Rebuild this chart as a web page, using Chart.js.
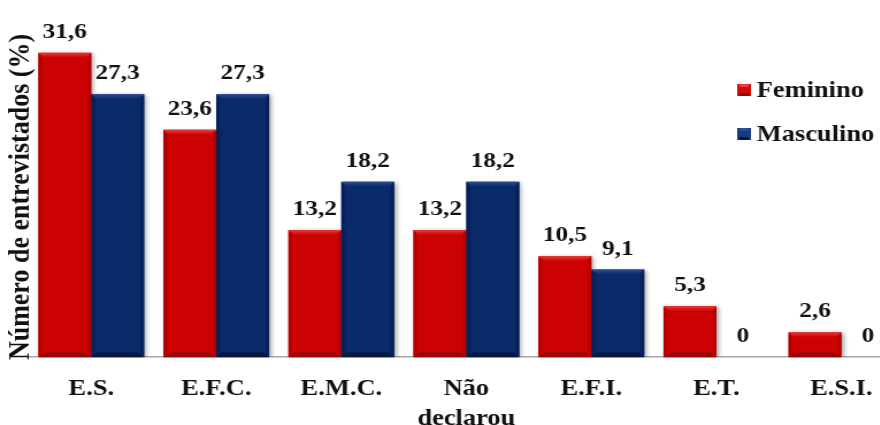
<!DOCTYPE html>
<html lang="pt">
<head>
<meta charset="utf-8">
<title>Número de entrevistados (%) por escolaridade e sexo</title>
<script src="https://cdn.jsdelivr.net/npm/chart.js@4.4.1/dist/chart.umd.min.js"></script>
<style>
  html, body { margin: 0; padding: 0; background: #ffffff; overflow: hidden; width: 880px; height: 425px; }
  /* the drawing is widened slightly on the horizontal axis */
  #wrap { width: 787px; height: 451px; transform: scaleX(1.15); transform-origin: 0 0; }
  canvas { display: block; }
</style>
</head>
<body>
<div id="wrap"><canvas id="chart" width="787" height="451"></canvas></div>
<script>
// Escolaridade dos entrevistados
const categories = ['E.S.', 'E.F.C.', 'E.M.C.', ['Não', 'declarou'], 'E.F.I.', 'E.T.', 'E.S.I.'];
const feminino   = [31.6, 23.6, 13.2, 13.2, 10.5, 5.3, 2.6];
const masculino  = [27.3, 27.3, 18.2, 18.2, 9.1, 0, 0];
const seriesNames = ['Feminino', 'Masculino'];
const yTitle = 'Número de entrevistados (%)';

const SERIF = '"Liberation Serif"';
const palettes = [
  { main: '#cc0202', top: '#e83c3c', side: '#b30000', bottom: '#9c0404', swatch: '#d10a0a' },
  { main: '#0b2a6a', top: '#2d4d92', side: '#072059', bottom: '#041846', swatch: '#173b82' }
];

function fmt(v) { return v === 0 ? '0' : v.toFixed(1).replace('.', ','); }

function poly(ctx, pts, color) {
  ctx.beginPath();
  ctx.moveTo(pts[0][0], pts[0][1]);
  for (let i = 1; i < pts.length; i++) ctx.lineTo(pts[i][0], pts[i][1]);
  ctx.closePath();
  ctx.fillStyle = color;
  ctx.fill();
}

// bevelled faces on every bar, then the value labels
const bevelPlugin = {
  id: 'bevel',
  beforeDatasetsDraw(chart) {
    const ctx = chart.ctx;
    ctx.save();
    ctx.shadowColor = 'rgba(0,0,0,0.35)';
    ctx.shadowBlur = 4;
    ctx.shadowOffsetX = 2;
    ctx.shadowOffsetY = 1;
  },
  afterDatasetsDraw(chart) {
    const ctx = chart.ctx;
    ctx.restore();
    chart.data.datasets.forEach((ds, di) => {
      const pal = palettes[di];
      chart.getDatasetMeta(di).data.forEach(el => {
        const x0 = el.x - el.width / 2, x1 = el.x + el.width / 2;
        const top = el.y, bot = el.base;
        const h = bot - top;
        if (h < 1) return;
        const b = Math.min(5, h / 2);
        ctx.save();
        poly(ctx, [[x0, bot], [x0 + b, bot - b], [x1 - b, bot - b], [x1, bot]], pal.bottom);
        poly(ctx, [[x0, top], [x0 + 3, top + b], [x0 + 3, bot - b], [x0, bot]], pal.side);
        poly(ctx, [[x1, top], [x1 - 3, top + b], [x1 - 3, bot - b], [x1, bot]], pal.side);
        const g = ctx.createLinearGradient(0, top, 0, top + b);
        g.addColorStop(0, pal.top);
        g.addColorStop(1, pal.main);
        poly(ctx, [[x0, top], [x1, top], [x1 - b, top + b], [x0 + b, top + b]], g);
        ctx.restore();
      });
    });
    ctx.save();
    ctx.font = 'bold 22px ' + SERIF;
    ctx.fillStyle = '#111111';
    ctx.textAlign = 'center';
    ctx.textBaseline = 'alphabetic';
    chart.data.datasets.forEach((ds, di) => {
      chart.getDatasetMeta(di).data.forEach((el, i) => {
        ctx.fillText(fmt(ds.data[i]), el.x, el.y - 15);
      });
    });
    ctx.restore();
  }
};

// y axis title and legend
const decorPlugin = {
  id: 'decor',
  afterDraw(chart) {
    const ctx = chart.ctx;
    ctx.save();
    ctx.font = 'bold 26px ' + SERIF;
    ctx.fillStyle = '#111111';
    ctx.textAlign = 'center';
    ctx.textBaseline = 'middle';
    ctx.translate(18, 197);
    ctx.rotate(-Math.PI / 2);
    ctx.fillText(yTitle, 0, 0);
    ctx.restore();

    ctx.save();
    ctx.font = 'bold 23px ' + SERIF;
    ctx.textBaseline = 'middle';
    ctx.textAlign = 'left';
    seriesNames.forEach((name, i) => {
      const cy = 90 + i * 44;
      const sx = 641, s = 12;
      const pal = palettes[i];
      ctx.fillStyle = pal.swatch;
      ctx.fillRect(sx, cy - s / 2, s, s);
      ctx.fillStyle = pal.top;
      ctx.fillRect(sx + 2, cy - s / 2, s - 4, 3);
      ctx.fillStyle = pal.bottom;
      ctx.fillRect(sx + 2, cy + s / 2 - 3, s - 4, 3);
      ctx.fillStyle = '#111111';
      ctx.fillText(name, sx + s + 5, cy + 1);
    });
    ctx.restore();
  }
};

function draw() {
  new Chart(document.getElementById('chart'), {
    type: 'bar',
    data: {
      labels: categories,
      datasets: [
        { label: seriesNames[0], data: feminino, backgroundColor: palettes[0].main, borderWidth: 0 },
        { label: seriesNames[1], data: masculino, backgroundColor: palettes[1].main, borderWidth: 0 }
      ]
    },
    options: {
      responsive: false,
      animation: false,
      devicePixelRatio: 1,
      layout: { padding: { left: 25, right: 1, top: 20, bottom: 0 } },
      datasets: { bar: { barPercentage: 1, categoryPercentage: 0.846 } },
      plugins: { legend: { display: false }, title: { display: false }, tooltip: { enabled: false } },
      scales: {
        x: {
          grid: { display: false, drawTicks: false },
          border: { display: true, color: '#a8a8a8', width: 1.5 },
          ticks: {
            color: '#111111',
            padding: 17,
            autoSkip: false,
            maxRotation: 0,
            font: { family: SERIF, size: 23, weight: 'bold', lineHeight: 1.3 }
          }
        },
        y: { display: false, min: 0, max: 35 }
      }
    },
    plugins: [bevelPlugin, decorPlugin]
  });
}

Promise.all([
  document.fonts.load('bold 22px "Liberation Serif"', 'Número 0123456789,'),
  document.fonts.load('bold 26px "Liberation Serif"', 'Feminino Masculino')
]).then(draw, draw);
</script>
</body>
</html>
